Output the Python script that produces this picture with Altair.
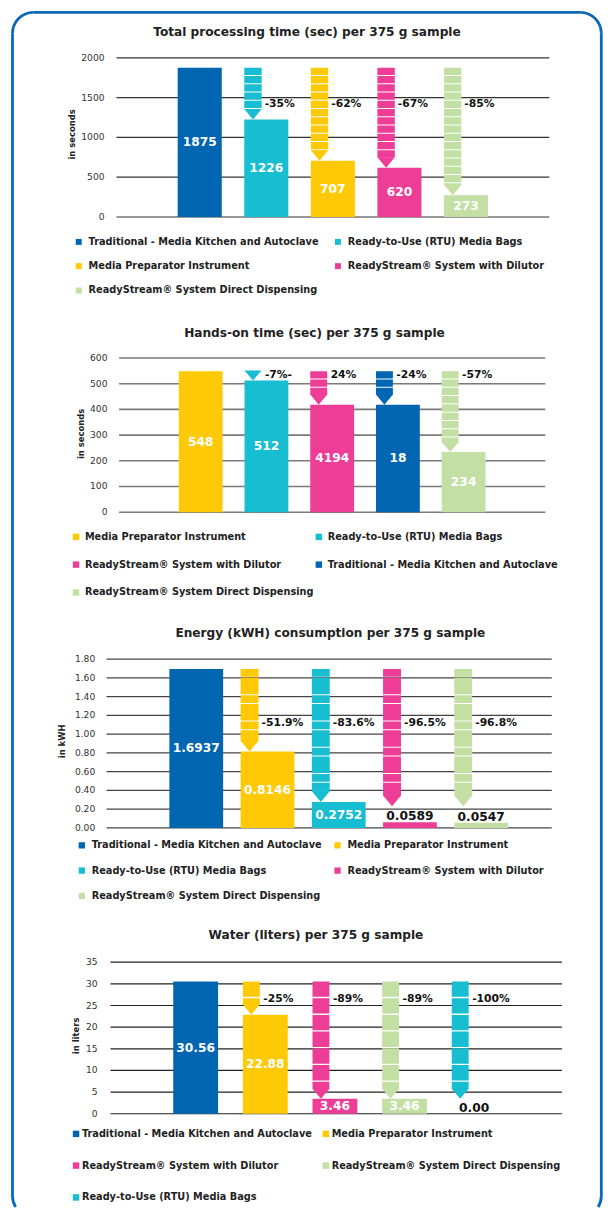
import math
import altair as alt
import pandas as pd

FONT = "DejaVu Sans"

TRAD = "Traditional - Media Kitchen and Autoclave"
RTU = "Ready-to-Use (RTU) Media Bags"
MPI = "Media Preparator Instrument"
RSD = "ReadyStream® System with Dilutor"
RSDD = "ReadyStream® System Direct Dispensing"

PALETTE = {TRAD: "#0066B2", RTU: "#17BDD0", MPI: "#FFCA05", RSD: "#EE3D96", RSDD: "#C4DFA4"}
BORDER = "#0A68B6"

# ---------------- data ----------------
time_title = "Total processing time (sec) per 375 g sample"
time_methods = [TRAD, RTU, MPI, RSD, RSDD]
time_values = [1875, 1226, 707, 620, 273]
time_labels = ["1875", "1226", "707", "620", "273"]
time_changes = ["", "-35%", "-62%", "-67%", "-85%"]
time_arrow_to = [None, 1226, 707, 620, 273]
time_ticks = [0, 500, 1000, 1500, 2000]

hands_title = "Hands-on time (sec) per 375 g sample"
hands_methods = [MPI, RTU, RSD, TRAD, RSDD]
hands_values = [548, 512, 418, 418, 234]
hands_labels = ["548", "512", "4194", "18", "234"]
hands_changes = ["", "-7%-", "24%", "-24%", "-57%"]
hands_arrow_to = [None, 512, 418, 418, 234]
hands_ticks = [0, 100, 200, 300, 400, 500, 600]

energy_title = "Energy (kWH) consumption per 375 g sample"
energy_methods = [TRAD, MPI, RTU, RSD, RSDD]
energy_values = [1.6937, 0.8146, 0.2752, 0.0589, 0.0547]
energy_labels = ["1.6937", "0.8146", "0.2752", "0.0589", "0.0547"]
energy_changes = ["", "-51.9%", "-83.6%", "-96.5%", "-96.8%"]
energy_arrow_to = [None, 0.8146, 0.2752, 0.23, 0.23]
energy_ticks = [0, 0.2, 0.4, 0.6, 0.8, 1.0, 1.2, 1.4, 1.6, 1.8]

water_title = "Water (liters) per 375 g sample"
water_methods = [TRAD, MPI, RSD, RSDD, RTU]
water_values = [30.56, 22.88, 3.46, 3.46, 0.0]
water_labels = ["30.56", "22.88", "3.46", "3.46", "0.00"]
water_changes = ["", "-25%", "-89%", "-89%", "-100%"]
water_arrow_to = [None, 22.88, 3.46, 3.46, 3.46]
water_ticks = [0, 5, 10, 15, 20, 25, 30, 35]

# ---------------- layout / style (page pixel coordinates) ----------------
MARGIN = 8
W_VIEW, H_VIEW = 598, 1203
BW = 2.8
R = 21
XL_PAGE, XR_PAGE = 12.5, 604.3
TOP_PAGE = MARGIN + BW / 2
BOT_ARC_PAGE = 1199


def v(p):
    return p - MARGIN


STYLES = [
    dict(left=117, right=552, top=55, bottom=215, pin=0.338, pout=0.92, palign=0.5,
         aw=17.5, dash=[7.3, 1], change_at=1425, change_dx=20.5, fmt="d",
         tick_right=105, ytitle="in seconds", ytitle_at=(72.5, 132),
         grid="#333333", gridw=1.2, title_at=(308.5, 33.4),
         leg=dict(x=74.2, y=242.5, off=5, row=13.5, col=14.5, size=36)),
    dict(left=119.6, right=548, top=356.7, bottom=511.7, pin=0.333, pout=0.909, palign=0.5,
         aw=17, dash=[7.3, 1], change_at=533, change_dx=20.5, fmt="d",
         tick_right=108, ytitle="in seconds", ytitle_at=(81, 433),
         grid="#7a7a7a", gridw=1.6, title_at=(316, 336),
         leg=dict(x=71.5, y=539, off=4, row=17, col=0, size=42)),
    dict(left=107, right=554.5, top=659.3, bottom=829, pin=0.245, pout=0.748, palign=0.59,
         aw=18, dash=[7.8, 1, 16.6, 1], change_at=1.114, change_dx=21, fmt=".2f",
         tick_right=95.7, ytitle="in kWH", ytitle_at=(62.7, 742),
         grid="#444444", gridw=1.2, title_at=(332, 637),
         leg=dict(x=77.3, y=849, off=5, row=14.5, col=11, size=40)),
    dict(left=111, right=564.7, top=964, bottom=1116.3, pin=0.356, pout=0.92, palign=0.49,
         aw=17, dash=[15.5, 1.3], change_at=26.5, change_dx=20.5, fmt="d",
         tick_right=98, ytitle="in liters", ytitle_at=(76.5, 1038),
         grid="#222222", gridw=1.2, title_at=(317.5, 941),
         leg=dict(x=71.5, y=1139, off=1, row=21, col=9, size=42)),
]

TRI = "M-1,-0.6L1,-0.6L0,0.6Z"


def build_panel(k, title, methods, values, labels, changes, arrow_to, ticks):
    S = STYLES[k]
    ymax = ticks[-1]
    df = pd.DataFrame({"method": methods, "value": values, "label": labels,
                       "change": changes, "arrow_to": arrow_to})
    df["start"] = values[0]
    df["change_y"] = S["change_at"]
    df["mid"] = df["value"] / 2
    tick_df = pd.DataFrame({"tick": ticks})

    xscale = alt.Scale(domain=methods, range=[v(S["left"]), v(S["right"])],
                       paddingInner=S["pin"], paddingOuter=S["pout"], align=S["palign"])
    yscale = alt.Scale(domain=[0, ymax], range=[v(S["bottom"]), v(S["top"])], nice=False, zero=True)
    cscale = alt.Scale(domain=methods, range=[PALETTE[m] for m in methods])
    X = alt.X("method:N", scale=xscale, axis=None, sort=methods)
    XL = alt.X("method:N", scale=xscale, axis=None, sort=methods, bandPosition=0)
    L = S["leg"]
    legend = alt.Legend(
        orient="none", legendX=v(L["x"]), legendY=v(L["y"]) - 7.5, columns=2, direction="horizontal",
        title=None, symbolType="square", symbolSize=L["size"], symbolStrokeWidth=0,
        labelFont=FONT, labelFontSize=9.8, labelFontWeight="bold", labelColor="#222222",
        labelOffset=L["off"], rowPadding=L["row"], columnPadding=L["col"],
        padding=0, labelLimit=400)
    C = alt.Color("method:N", scale=cscale, legend=legend, sort=methods)
    Cn = alt.Color("method:N", scale=cscale, legend=None, sort=methods)

    def Y(field):
        return alt.Y(field, scale=yscale, axis=None)

    grid = alt.Chart(tick_df).mark_rule(color=S["grid"], strokeWidth=S["gridw"]).encode(
        x=alt.value(v(S["left"])), x2=alt.value(v(S["right"])), y=Y("tick:Q"))
    tick_labels = alt.Chart(tick_df).mark_text(
        align="right", baseline="middle", font=FONT, fontSize=9.2, color="#333333").encode(
        x=alt.value(v(S["tick_right"])), y=Y("tick:Q"), text=alt.Text("tick:Q", format=S["fmt"]))

    base = alt.Chart(df)
    bars = base.mark_bar().encode(x=X, y=Y("value:Q"), color=C)

    aw = S["aw"]
    th = 0.6 * aw
    arrows = base.transform_filter("isValid(datum.arrow_to)")
    shaft = arrows.mark_rule(strokeWidth=aw, strokeDash=S["dash"], strokeCap="butt",
                             xOffset=aw / 2, y2Offset=-th + 0.5).encode(
        x=XL, y=Y("start:Q"), y2="arrow_to:Q", color=Cn)
    tri = arrows.mark_point(shape=TRI, filled=True, opacity=1, size=aw * aw, strokeWidth=0,
                            xOffset=aw / 2, yOffset=-th / 2).encode(
        x=XL, y=Y("arrow_to:Q"), color=Cn)
    pct = arrows.mark_text(align="left", baseline="middle", xOffset=S["change_dx"], font=FONT,
                           fontSize=10.8, fontWeight="bold", color="#111111").encode(
        x=XL, y=Y("change_y:Q"), text="change:N")

    thr = 0.06 * ymax
    inside = base.transform_filter(f"datum.value >= {thr}").mark_text(
        color="white", font=FONT, fontSize=12.3, fontWeight="bold", baseline="middle").encode(
        x=X, y=Y("mid:Q"), text="label:N")
    outside = base.transform_filter(f"datum.value < {thr}").mark_text(
        color="#111111", font=FONT, fontSize=12.3, fontWeight="bold", baseline="alphabetic",
        dy=-2).encode(
        x=X, y=Y("value:Q"), text="label:N")

    deco = alt.Chart(pd.DataFrame({"k": [0]}))
    tx, ty = S["title_at"]
    ttl = deco.mark_text(text=title, align="center", baseline="alphabetic", font=FONT,
                         fontSize=12.2, fontWeight="bold", color="#222222").encode(
        x=alt.value(v(tx)), y=alt.value(v(ty)))
    ax, ay = S["ytitle_at"]
    ytl = deco.mark_text(text=S["ytitle"], angle=270, align="center", baseline="middle", font=FONT,
                         fontSize=8.5, fontWeight="bold", color="#222222").encode(
        x=alt.value(v(ax)), y=alt.value(v(ay)))

    return alt.layer(grid, tick_labels, bars, shaft, tri, pct, inside, outside, ttl, ytl)


def border():
    deco = alt.Chart(pd.DataFrame({"k": [0]}))
    xl, xr = v(XL_PAGE), v(XR_PAGE)
    yt = v(TOP_PAGE)
    yc = v(BOT_ARC_PAGE)
    arc = dict(color=BORDER, radius=R + BW / 2, radius2=R - BW / 2)
    rule = dict(color=BORDER, strokeWidth=BW)
    room = (H_VIEW - 0.2 - yc) / (R + BW / 2)
    turn = math.acos(min(1.0, max(0.0, room)))
    return [
        deco.mark_rule(**rule).encode(x=alt.value(xl), y=alt.value(yt + R), y2=alt.value(yc)),
        deco.mark_rule(**rule).encode(x=alt.value(xr), y=alt.value(yt + R), y2=alt.value(yc)),
        deco.mark_rule(**rule).encode(x=alt.value(xl + R), x2=alt.value(xr - R), y=alt.value(yt)),
        deco.mark_arc(theta=1.5 * math.pi, theta2=2 * math.pi, **arc).encode(
            x=alt.value(xl + R), y=alt.value(yt + R)),
        deco.mark_arc(theta=0, theta2=0.5 * math.pi, **arc).encode(
            x=alt.value(xr - R), y=alt.value(yt + R)),
        deco.mark_arc(theta=math.pi + turn, theta2=1.5 * math.pi, **arc).encode(
            x=alt.value(xl + R), y=alt.value(yc)),
        deco.mark_arc(theta=0.5 * math.pi, theta2=math.pi - turn, **arc).encode(
            x=alt.value(xr - R), y=alt.value(yc)),
    ]


p1 = build_panel(0, time_title, time_methods, time_values, time_labels, time_changes,
                 time_arrow_to, time_ticks)
p2 = build_panel(1, hands_title, hands_methods, hands_values, hands_labels, hands_changes,
                 hands_arrow_to, hands_ticks)
p3 = build_panel(2, energy_title, energy_methods, energy_values, energy_labels, energy_changes,
                 energy_arrow_to, energy_ticks)
p4 = build_panel(3, water_title, water_methods, water_values, water_labels, water_changes,
                 water_arrow_to, water_ticks)

chart = alt.layer(p1, p2, p3, p4, *border()).resolve_scale(
    x="independent", y="independent", color="independent"
).resolve_legend(color="independent").properties(
    width=W_VIEW, height=H_VIEW, padding=0, background="white",
    autosize=alt.AutoSizeParams(type="none"),
).configure_view(stroke=None)

chart.save("out.html", embed_options={"renderer": "svg", "actions": False})
